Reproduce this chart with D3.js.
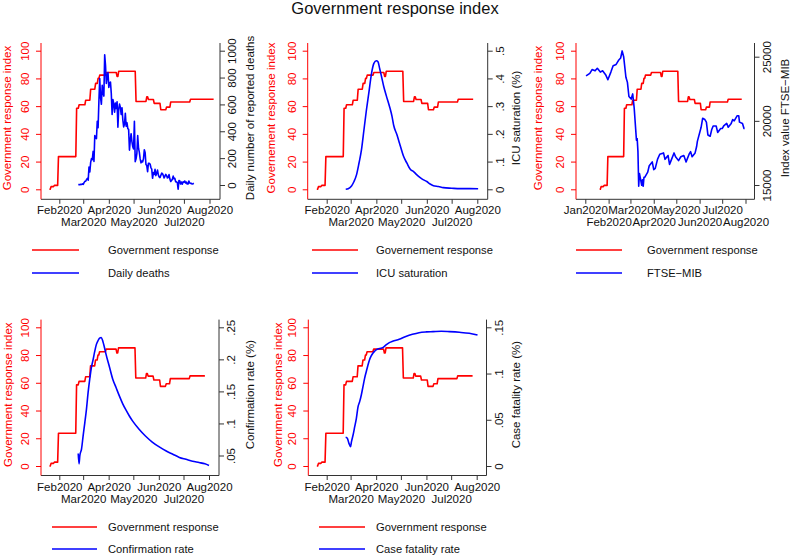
<!DOCTYPE html>
<html><head><meta charset="utf-8">
<script src="https://cdn.jsdelivr.net/npm/d3@7"></script>
<style>
html,body{margin:0;padding:0;background:#fff;}
svg{display:block;font-family:"Liberation Sans",Arial,sans-serif;}
</style></head>
<body><svg id="c" width="791" height="556"></svg>
<script>
// ---------------- DATA ----------------
// Government response index (step series: date where a new level starts, level)
const govDates  = ["2020-01-20","2020-01-22","2020-01-26","2020-01-31","2020-02-21","2020-02-22","2020-02-25","2020-03-04","2020-03-10","2020-03-16","2020-03-19","2020-03-21","2020-03-29","2020-04-11","2020-04-13","2020-05-04","2020-05-17","2020-05-19","2020-05-26","2020-06-03","2020-06-10","2020-06-15","2020-07-09"];
const govValues = [0,1.9,2.8,23.6,23.6,58.5,61,64.3,72.2,76.4,80,82.4,84.3,81.5,85.2,63.4,66.7,64.8,62,57.4,59.3,63,65];
const govEndPanel1 = "2020-08-06";
const govEndOther  = "2020-07-27";

// Daily deaths (consecutive days from deathsStart)
const deathsStart = "2020-02-24";
const deaths = [4,3,2,5,4,8,5,18,27,28,41,49,36,133,97,168,196,189,250,175,368,349,345,475,427,627,793,651,601,743,683,662,969,889,756,812,837,727,760,766,681,525,636,604,542,610,570,619,431,566,602,578,525,575,482,433,454,534,437,464,420,415,260,333,382,323,285,269,474,174,195,236,369,274,243,194,165,179,172,195,262,242,153,145,99,162,161,156,130,119,50,92,78,117,70,87,111,75,60,55,71,88,85,72,53,65,79,71,53,56,78,44,26,34,43,66,47,49,24,23,18,-31,34,30,8,22,6,23,21,30,15,21,7,8,30,15,12,12,7,9,13];

// ICU saturation (%)
const icuDates  = ["2020-02-24","2020-02-27","2020-03-02","2020-03-05","2020-03-08","2020-03-11","2020-03-14","2020-03-17","2020-03-20","2020-03-23","2020-03-26","2020-03-29","2020-04-01","2020-04-03","2020-04-05","2020-04-07","2020-04-10","2020-04-13","2020-04-17","2020-04-20","2020-04-22","2020-04-26","2020-04-29","2020-05-02","2020-05-04","2020-05-08","2020-05-12","2020-05-16","2020-05-20","2020-05-24","2020-05-28","2020-06-01","2020-06-05","2020-06-09","2020-06-15","2020-06-21","2020-07-01","2020-07-11","2020-07-23","2020-08-02"];
const icuValues = [0,0.002,0.012,0.028,0.052,0.094,0.142,0.214,0.286,0.35,0.415,0.454,0.464,0.46,0.436,0.41,0.37,0.338,0.298,0.262,0.23,0.196,0.166,0.136,0.118,0.094,0.072,0.064,0.052,0.042,0.034,0.028,0.019,0.013,0.010,0.006,0.004,0.0025,0.0025,0.002];

// FTSE-MIB index value
const ftseDates  = ["2020-01-02","2020-01-07","2020-01-10","2020-01-14","2020-01-17","2020-01-21","2020-01-24","2020-01-28","2020-01-31","2020-02-04","2020-02-07","2020-02-11","2020-02-14","2020-02-17","2020-02-19","2020-02-21","2020-02-24","2020-02-26","2020-02-28","2020-03-02","2020-03-04","2020-03-06","2020-03-09","2020-03-10","2020-03-11","2020-03-12","2020-03-13","2020-03-16","2020-03-17","2020-03-18","2020-03-19","2020-03-20","2020-03-24","2020-03-26","2020-03-30","2020-04-01","2020-04-03","2020-04-06","2020-04-09","2020-04-14","2020-04-16","2020-04-20","2020-04-22","2020-04-24","2020-04-28","2020-04-30","2020-05-04","2020-05-07","2020-05-11","2020-05-14","2020-05-18","2020-05-20","2020-05-22","2020-05-26","2020-05-28","2020-05-29","2020-06-03","2020-06-05","2020-06-08","2020-06-10","2020-06-12","2020-06-15","2020-06-17","2020-06-19","2020-06-23","2020-06-25","2020-06-29","2020-07-01","2020-07-03","2020-07-07","2020-07-09","2020-07-13","2020-07-15","2020-07-17","2020-07-21","2020-07-23","2020-07-24","2020-07-28","2020-07-30","2020-07-31"];
const ftseValues = [23500,23700,24000,23900,24100,23800,23900,23600,23200,23800,24300,24400,24700,24900,25450,25000,23400,23000,21900,21700,22100,21000,18500,18600,17600,14900,15900,14980,15400,14900,15600,15600,16000,16500,16800,16200,16300,17000,17400,17500,17000,17300,16600,16900,17500,17200,16900,17200,17300,16800,17400,17600,17200,17500,18000,18400,19500,20200,20100,19900,18900,18800,19300,19600,19600,19100,19400,19400,19600,19800,19500,19800,20100,20000,20400,20400,19900,19800,19400,19400];

// Confirmation rate (%)
const confDates  = ["2020-02-24","2020-02-25","2020-02-26","2020-02-28","2020-03-01","2020-03-03","2020-03-05","2020-03-07","2020-03-09","2020-03-11","2020-03-13","2020-03-15","2020-03-17","2020-03-19","2020-03-21","2020-03-23","2020-03-25","2020-03-27","2020-03-29","2020-04-02","2020-04-06","2020-04-10","2020-04-14","2020-04-18","2020-04-22","2020-04-26","2020-04-30","2020-05-08","2020-05-16","2020-05-24","2020-06-02","2020-06-10","2020-06-18","2020-06-26","2020-07-04","2020-07-12","2020-07-20","2020-07-27","2020-08-01"];
const confValues = [0.053,0.037,0.050,0.060,0.081,0.101,0.122,0.148,0.169,0.187,0.199,0.212,0.223,0.229,0.233,0.234,0.228,0.218,0.207,0.188,0.169,0.156,0.143,0.131,0.121,0.112,0.104,0.091,0.080,0.071,0.063,0.057,0.052,0.047,0.044,0.041,0.039,0.037,0.0345];

// Case fatality rate (%)
const cfrDates  = ["2020-02-24","2020-02-26","2020-02-28","2020-03-01","2020-03-02","2020-03-04","2020-03-06","2020-03-08","2020-03-10","2020-03-12","2020-03-14","2020-03-16","2020-03-18","2020-03-20","2020-03-22","2020-03-24","2020-03-26","2020-03-28","2020-03-30","2020-04-01","2020-04-05","2020-04-09","2020-04-13","2020-04-17","2020-04-21","2020-04-29","2020-05-07","2020-05-15","2020-05-23","2020-06-01","2020-06-09","2020-06-19","2020-06-29","2020-07-11","2020-07-23","2020-08-02"];
const cfrValues = [0.031,0.030,0.0245,0.021,0.026,0.0335,0.0425,0.0516,0.064,0.0696,0.0768,0.0858,0.0948,0.102,0.109,0.115,0.119,0.122,0.124,0.1255,0.127,0.128,0.131,0.1334,0.1349,0.137,0.140,0.1424,0.1442,0.145,0.1453,0.1457,0.1453,0.1446,0.1435,0.1417];

// Axis ticks / labels
const govTicks = [0,20,40,60,80,100];
const monthTicksA = ["2020-02-01","2020-03-01","2020-04-01","2020-05-01","2020-06-01","2020-07-01","2020-08-01"];
const monthTicksB = ["2020-01-01","2020-02-01","2020-03-01","2020-04-01","2020-05-01","2020-06-01","2020-07-01","2020-08-01"];
const deathsTicks = [0,200,400,600,800,1000];
const icuTicks = [0,0.1,0.2,0.3,0.4,0.5];
const ftseTicks = [15000,20000,25000];
const confTicks = [0.05,0.1,0.15,0.2,0.25];
const cfrTicks = [0,0.05,0.1,0.15];

const chartTitle = "Government response index";
const RED = "#ff0000", BLUE = "#0000ff", AX = "#333";

// ---------------- HELPERS ----------------
const P = d3.utcParse("%Y-%m-%d");
const fmtMonth = d3.utcFormat("%b%Y");
const fmtDec = v => (v === 0 ? "0" : String(+v.toFixed(2)).replace(/^0\./, "."));

const svg = d3.select("#c");
svg.append("text").attr("x", 395).attr("y", 14).attr("text-anchor", "middle")
  .attr("font-size", 16.5).attr("fill", "#111").text(chartTitle);

// daily series from the step definition (as a daily-observed index, connected day to day)
function govSeries(end) {
  const out = [];
  const starts = govDates.map(P);
  const last = P(end);
  let k = 0;
  for (let d = starts[0]; d <= last; d = d3.utcDay.offset(d, 1)) {
    while (k + 1 < starts.length && starts[k + 1] <= d) k++;
    out.push({ date: d, v: govValues[k] });
  }
  return out;
}

function panel(cfg) {
  const g = svg.append("g");
  const x = d3.scaleUtc().domain([P(cfg.xTicks[0]), P(cfg.xTicks[cfg.xTicks.length - 1])]).range(cfg.xr);
  const yL = d3.scaleLinear().domain([0, 100]).range(cfg.yl);
  const yR = d3.scaleLinear().domain(cfg.rDomain).range(cfg.rr);
  const L = cfg.left, R = cfg.right, T = cfg.top, B = cfg.bottom;

  // axis lines
  g.append("line").attr("x1", L).attr("x2", R).attr("y1", B).attr("y2", B).attr("stroke", AX);
  g.append("line").attr("x1", L).attr("x2", L).attr("y1", T).attr("y2", B).attr("stroke", RED);
  g.append("line").attr("x1", R).attr("x2", R).attr("y1", T).attr("y2", B).attr("stroke", AX);

  // bottom axis
  const xa = g.append("g").attr("transform", `translate(0,${B})`)
    .call(d3.axisBottom(x).tickValues(cfg.xTicks.map(P)).tickFormat(fmtMonth).tickSize(4.5).tickPadding(0));
  xa.select(".domain").remove();
  xa.selectAll("line").attr("stroke", AX);
  xa.selectAll("text").attr("font-size", 11.5).attr("fill", "#111").attr("font-family", null)
    .attr("dy", "0.35em").attr("y", (d, i) => (i % 2 === 0 ? 11 : 23));

  // left axis
  const la = g.append("g").attr("transform", `translate(${L},0)`)
    .call(d3.axisLeft(yL).tickValues(govTicks).tickFormat(d3.format("d")).tickSize(5));
  la.select(".domain").remove();
  la.selectAll("line").attr("stroke", RED);
  la.selectAll("text").attr("font-size", 11.5).attr("fill", RED).attr("font-family", null)
    .attr("transform", "rotate(-90)").attr("text-anchor", "middle")
    .attr("x", 0).attr("y", -16).attr("dy", "0.35em");

  // right axis
  const ra = g.append("g").attr("transform", `translate(${R},0)`)
    .call(d3.axisRight(yR).tickValues(cfg.rTicks).tickFormat(cfg.rFmt).tickSize(5));
  ra.select(".domain").remove();
  ra.selectAll("line").attr("stroke", AX);
  ra.selectAll("text").attr("font-size", 11.5).attr("fill", "#111").attr("font-family", null)
    .attr("transform", "rotate(-90)").attr("text-anchor", "middle")
    .attr("x", 0).attr("y", 12).attr("dy", "0.35em");

  // axis titles
  const cy = (yL(0) + yL(100)) / 2 - 2;
  g.append("text").attr("transform", `translate(${L + cfg.lTitleOff},${cy}) rotate(-90)`)
    .attr("text-anchor", "middle").attr("dy", "0.35em").attr("font-size", 11.5).attr("fill", RED).text(cfg.lTitle);
  g.append("text").attr("transform", `translate(${R + cfg.rTitleOff},${cy}) rotate(-90)`)
    .attr("text-anchor", "middle").attr("dy", "0.35em").attr("font-size", 11.5).attr("fill", "#111").text(cfg.rTitle);

  // series
  g.append("path").datum(govSeries(cfg.govEnd))
    .attr("d", d3.line().x(d => x(d.date)).y(d => yL(d.v)))
    .attr("fill", "none").attr("stroke", RED).attr("stroke-width", 1.6).attr("stroke-linejoin", "round");
  g.append("path").datum(cfg.series)
    .attr("d", d3.line().x(d => x(d.date)).y(d => yR(d.v)).curve(cfg.curve || d3.curveLinear))
    .attr("fill", "none").attr("stroke", BLUE).attr("stroke-width", 1.6).attr("stroke-linejoin", "round");

  // legend
  const lg = cfg.legend;
  [[RED, cfg.govLabel], [BLUE, cfg.seriesLabel]].forEach(([c, t], i) => {
    const yy = lg.rows[i];
    svg.append("line").attr("x1", lg.x1).attr("x2", lg.x2).attr("y1", yy).attr("y2", yy)
      .attr("stroke", c).attr("stroke-width", 1.6);
    svg.append("text").attr("x", lg.tx).attr("y", yy).attr("dy", "0.35em")
      .attr("font-size", 11.2).attr("fill", "#111").text(t);
  });
}

const zip = (ds, vs) => ds.map((d, i) => ({ date: P(d), v: vs[i] }));
const deathSeries = deaths.map((v, i) => ({ date: d3.utcDay.offset(P(deathsStart), i), v }));

const topRow = { top: 43, bottom: 199.3, yl: [189.3, 50.7] };
const botRow = { top: 319.6, bottom: 475.5, yl: [466, 327.3] };

panel({ ...topRow, left: 41, right: 220, xr: [59.3, 209.5], xTicks: monthTicksA,
  rDomain: [0, 1000], rr: [185, 50.7], rTicks: deathsTicks, rFmt: d3.format("d"),
  lTitle: "Government response index", lTitleOff: -34, rTitle: "Daily number of reported deaths", rTitleOff: 30,
  govEnd: govEndPanel1, series: deathSeries,
  govLabel: "Government response", seriesLabel: "Daily deaths",
  legend: { rows: [250, 273], x1: 32, x2: 79, tx: 108 } });

panel({ ...topRow, left: 307.7, right: 487.7, xr: [326.7, 477.3], xTicks: monthTicksA,
  rDomain: [0, 0.5], rr: [189.3, 50.7], rTicks: icuTicks, rFmt: fmtDec,
  lTitle: "Governement response index", lTitleOff: -37, rTitle: "ICU saturation (%)", rTitleOff: 28,
  govEnd: govEndOther, series: zip(icuDates, icuValues), curve: d3.curveMonotoneX,
  govLabel: "Governement response", seriesLabel: "ICU saturation",
  legend: { rows: [250, 273], x1: 312, x2: 358, tx: 376 } });

panel({ ...topRow, left: 576, right: 754.5, xr: [585.3, 745.5], xTicks: monthTicksB,
  rDomain: [15000, 25000], rr: [185, 56.7], rTicks: ftseTicks, rFmt: d3.format("d"),
  lTitle: "Government response index", lTitleOff: -38, rTitle: "Index value FTSE\u2212MIB", rTitleOff: 30,
  govEnd: govEndOther, series: zip(ftseDates, ftseValues),
  govLabel: "Government response", seriesLabel: "FTSE\u2212MIB",
  legend: { rows: [250, 273], x1: 576, x2: 622, tx: 647 } });

panel({ ...botRow, left: 41, right: 219, xr: [59.3, 209], xTicks: monthTicksA,
  rDomain: [0.05, 0.25], rr: [455.5, 327.3], rTicks: confTicks, rFmt: fmtDec,
  lTitle: "Government response index", lTitleOff: -33, rTitle: "Confirmation rate (%)", rTitleOff: 31,
  govEnd: govEndOther, series: zip(confDates, confValues), curve: d3.curveMonotoneX,
  govLabel: "Government response", seriesLabel: "Confirmation rate",
  legend: { rows: [527, 549], x1: 52, x2: 97, tx: 108 } });

panel({ ...botRow, left: 308.3, right: 486.5, xr: [326.7, 476.7], xTicks: monthTicksA,
  rDomain: [0, 0.15], rr: [466, 327.3], rTicks: cfrTicks, rFmt: fmtDec,
  lTitle: "Government response index", lTitleOff: -30, rTitle: "Case fatality rate (%)", rTitleOff: 29,
  govEnd: govEndOther, series: zip(cfrDates, cfrValues), curve: d3.curveMonotoneX,
  govLabel: "Government response", seriesLabel: "Case fatality rate",
  legend: { rows: [527, 549], x1: 319, x2: 365, tx: 376 } });
</script></body></html>
